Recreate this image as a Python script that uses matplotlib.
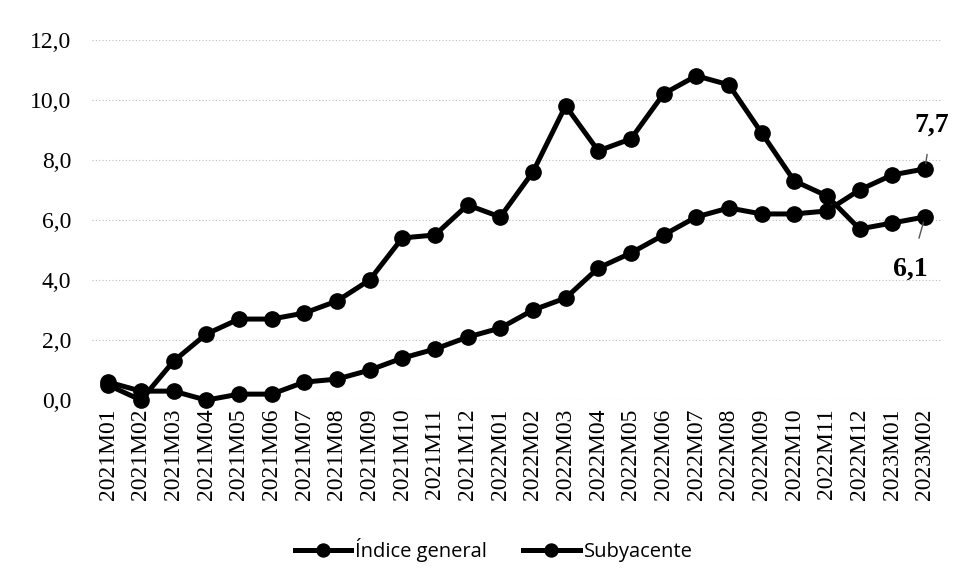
import matplotlib
matplotlib.use("Agg")
import matplotlib.pyplot as plt
from matplotlib.ticker import FuncFormatter

months = ["2021M01","2021M02","2021M03","2021M04","2021M05","2021M06","2021M07","2021M08",
          "2021M09","2021M10","2021M11","2021M12","2022M01","2022M02","2022M03","2022M04",
          "2022M05","2022M06","2022M07","2022M08","2022M09","2022M10","2022M11","2022M12",
          "2023M01","2023M02"]
indice_general = [0.5, 0.0, 1.3, 2.2, 2.7, 2.7, 2.9, 3.3, 4.0, 5.4, 5.5, 6.5, 6.1, 7.6, 9.8, 8.3,
                  8.7, 10.2, 10.8, 10.5, 8.9, 7.3, 6.8, 5.7, 5.9, 6.1]
subyacente = [0.6, 0.3, 0.3, 0.0, 0.2, 0.2, 0.6, 0.7, 1.0, 1.4, 1.7, 2.1, 2.4, 3.0, 3.4, 4.4,
              4.9, 5.5, 6.1, 6.4, 6.2, 6.2, 6.3, 7.0, 7.5, 7.7]

fig = plt.figure(figsize=(9.64, 5.85), dpi=100)
ax = fig.add_axes([0.0954, 0.316, 0.881, 0.616])
x = list(range(len(months)))
ax.plot(x, indice_general, color="black", lw=3.6, marker="o", ms=11, clip_on=False,
        label="Índice general", zorder=3)
ax.plot(x, subyacente, color="black", lw=3.6, marker="o", ms=11, clip_on=False,
        label="Subyacente", zorder=3)

ax.set_xlim(-0.5, len(months) - 0.5)
ax.set_ylim(0, 12)
ax.set_yticks([0, 2, 4, 6, 8, 10, 12])
ax.yaxis.set_major_formatter(FuncFormatter(lambda v, p: f"{v:.1f}".replace(".", ",")))
ax.set_xticks(x)
ax.set_xticklabels(months, rotation=90, fontfamily="Liberation Serif", fontsize=17)
for lab in ax.get_yticklabels():
    lab.set_fontfamily("Liberation Serif")
    lab.set_fontsize(17)
ax.tick_params(axis="y", length=0, pad=15)
ax.tick_params(axis="x", length=0, pad=6)
ax.grid(axis="y", color="#bbbbbb", lw=0.8, ls=(0, (1, 2)))
ax.set_axisbelow(True)
for s in ax.spines.values():
    s.set_visible(False)

last = len(months) - 1
ax.annotate(f"{subyacente[-1]:.1f}".replace(".", ","), xy=(last, subyacente[-1]),
            xytext=(last + 0.2, subyacente[-1] + 1.45), ha="center", va="center",
            fontfamily="Liberation Serif", fontsize=20, fontweight="bold",
            annotation_clip=False,
            arrowprops=dict(arrowstyle="-", color="#555555", lw=1, shrinkA=10, shrinkB=4))
ax.annotate(f"{indice_general[-1]:.1f}".replace(".", ","), xy=(last, indice_general[-1]),
            xytext=(last - 0.45, indice_general[-1] - 1.75), ha="center", va="center",
            fontfamily="Liberation Serif", fontsize=20, fontweight="bold",
            annotation_clip=False,
            arrowprops=dict(arrowstyle="-", color="#555555", lw=1, shrinkA=12, shrinkB=4))

leg = fig.legend(loc="center", bbox_to_anchor=(0.512, 0.06), ncol=2, frameon=False,
                 prop={"family": "Open Sans", "size": 14.5}, handlelength=2.8,
                 handletextpad=0.2, columnspacing=1.8, markerscale=0.85)
fig.savefig("out.png", dpi=100)
